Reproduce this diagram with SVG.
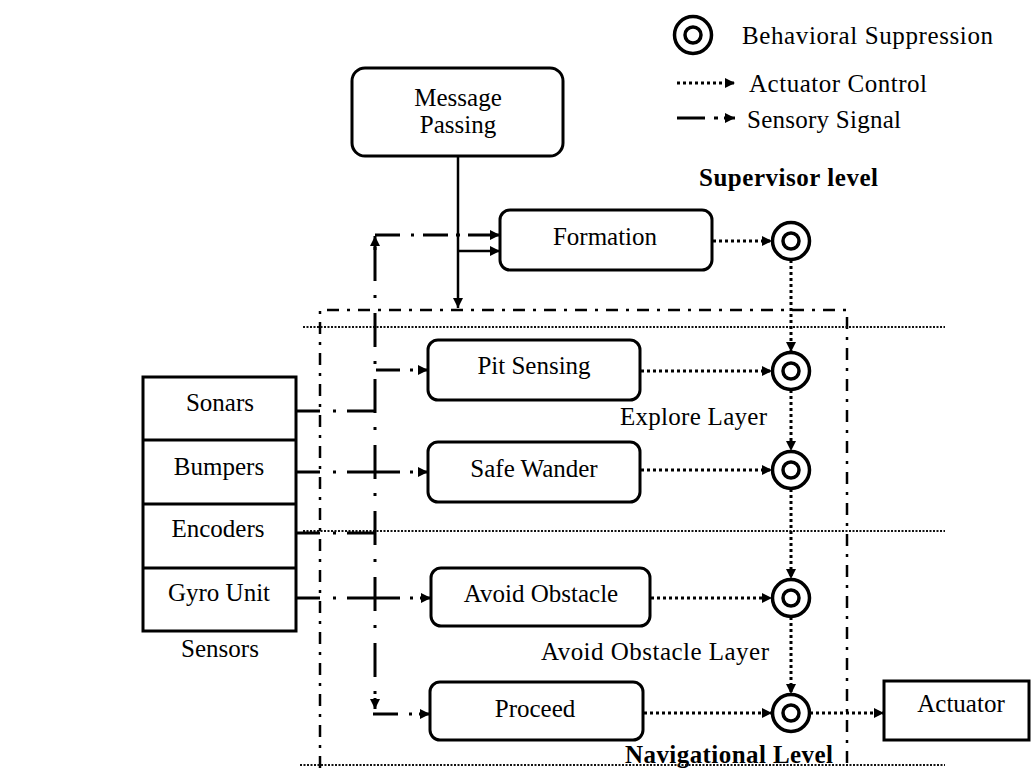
<svg xmlns="http://www.w3.org/2000/svg" width="1031" height="769" viewBox="0 0 1031 769">
<style>
text{font-family:"Liberation Serif","Times New Roman",serif;font-size:25px;fill:#000}
.b{font-weight:bold}
.m{text-anchor:middle}
.box{fill:#fff;stroke:#000;stroke-width:3}
.ring{fill:none;stroke:#000;stroke-width:3.5}
.solid{fill:none;stroke:#000;stroke-width:2.5}
.sens{fill:none;stroke:#000;stroke-width:3}
.act{fill:none;stroke:#000;stroke-width:3;stroke-dasharray:3 3}
.sep{fill:none;stroke:#111;stroke-width:2;stroke-dasharray:2 1.5}
.frame{fill:none;stroke:#000;stroke-width:2.5;stroke-dasharray:12 8 3 8}
</style>
<defs>
<marker id="ah" viewBox="0 0 10 10" refX="10" refY="5" markerWidth="11" markerHeight="10" markerUnits="userSpaceOnUse" orient="auto"><path d="M0,0L10,5L0,10z" fill="#000"/></marker>
<g id="supp"><circle r="18.5" class="ring"/><circle r="8" class="ring"/></g>
</defs>
<rect width="1031" height="769" fill="#fff"/>

<g id="legend">
<use href="#supp" x="693" y="35"/>
<text x="742" y="44" textLength="251">Behavioral  Suppression</text>
<path class="act" d="M677,83H735" marker-end="url(#ah)"/>
<text x="749" y="92" textLength="178">Actuator Control</text>
<path class="sens" d="M677,118H705 M714,118H718 M724,118H735" marker-end="url(#ah)"/>
<text x="747" y="128" textLength="154">Sensory Signal</text>
</g>

<g id="labels">
<text class="b" x="699" y="186" textLength="179">Supervisor level</text>
<text x="620" y="425" textLength="147">Explore Layer</text>
<text x="541" y="660" textLength="228">Avoid Obstacle Layer</text>
<text class="b" x="625" y="763" textLength="208">Navigational Level</text>
</g>

<g id="frames">
<path class="frame" d="M320,768V310H847V768"/>
<path class="sep" d="M303,327H945"/>
<path class="sep" d="M303,531H945"/>
<path class="sep" d="M300,765H945"/>
</g>

<g id="connectors">
<!-- message passing -->
<path class="solid" d="M458,156V308" marker-end="url(#ah)"/>
<path class="solid" d="M458,251H500" marker-end="url(#ah)"/>
<!-- sensory signals -->
<path class="sens" d="M375,247V698" style="stroke-dasharray:34 14 3 15"/>
<path class="sens" d="M375,250V236" marker-end="url(#ah)"/>
<path class="sens" d="M375,698V709" marker-end="url(#ah)"/>
<path class="sens" d="M375,235H400 M411,235H414 M423,235H448 M456,235H460 M468,235H500" marker-end="url(#ah)"/>
<path class="sens" d="M376,370H400 M410,370H413 M418,370H428" marker-end="url(#ah)"/>
<path class="sens" d="M296,411H320 M333,411H336 M347,411H375"/>
<path class="sens" d="M296,472H320 M333,472H336 M347,472H400 M410,472H413 M418,472H428" marker-end="url(#ah)"/>
<path class="sens" d="M296,533H320 M333,533H336 M347,533H375"/>
<path class="sens" d="M296,598H320 M333,598H336 M347,598H400 M410,598H413 M420,598H431" marker-end="url(#ah)"/>
<path class="sens" d="M373,714H398 M409,714H412 M419,714H430" marker-end="url(#ah)"/>
<!-- actuator control -->
<path class="act" d="M713,241H772" marker-end="url(#ah)"/>
<path class="act" d="M641,371H772" marker-end="url(#ah)"/>
<path class="act" d="M641,470H772" marker-end="url(#ah)"/>
<path class="act" d="M651,598H772" marker-end="url(#ah)"/>
<path class="act" d="M644,713H772" marker-end="url(#ah)"/>
<path class="act" d="M810,713H884" marker-end="url(#ah)"/>
<path class="act" d="M791,260V352" marker-end="url(#ah)"/>
<path class="act" d="M791,390V451" marker-end="url(#ah)"/>
<path class="act" d="M791,489V579" marker-end="url(#ah)"/>
<path class="act" d="M791,617V694" marker-end="url(#ah)"/>
</g>

<g id="message-passing"><rect class="box" x="352" y="68" width="211" height="88" rx="13"/><text class="m" x="458" y="106">Message</text><text class="m" x="458" y="133">Passing</text></g>
<g id="formation"><rect class="box" x="500" y="210" width="212" height="60" rx="10"/><text class="m" x="605" y="245">Formation</text></g>
<g id="pit-sensing"><rect class="box" x="428" y="340" width="212" height="60" rx="10"/><text class="m" x="534" y="374">Pit Sensing</text></g>
<g id="safe-wander"><rect class="box" x="428" y="442" width="212" height="60" rx="10"/><text class="m" x="534" y="477">Safe Wander</text></g>
<g id="avoid-obstacle"><rect class="box" x="431" y="568" width="219" height="58" rx="10"/><text class="m" x="541" y="602">Avoid Obstacle</text></g>
<g id="proceed"><rect class="box" x="430" y="682" width="213" height="58" rx="10"/><text class="m" x="535" y="717">Proceed</text></g>
<g id="actuator"><rect class="box" x="884" y="681" width="145" height="59"/><text class="m" x="961" y="712">Actuator</text></g>

<g id="sensors">
<rect class="box" x="143" y="377" width="153" height="254"/>
<path d="M143,440H296 M143,504H296 M143,568H296" stroke="#000" stroke-width="3"/>
<text class="m" x="220" y="411">Sonars</text>
<text class="m" x="219" y="475">Bumpers</text>
<text class="m" x="218" y="537">Encoders</text>
<text class="m" x="219" y="601">Gyro Unit</text>
<text class="m" x="220" y="657">Sensors</text>
</g>

<g id="suppressors">
<use href="#supp" x="791" y="241"/>
<use href="#supp" x="791" y="371"/>
<use href="#supp" x="791" y="470"/>
<use href="#supp" x="791" y="598"/>
<use href="#supp" x="791" y="713"/>
</g>
</svg>
